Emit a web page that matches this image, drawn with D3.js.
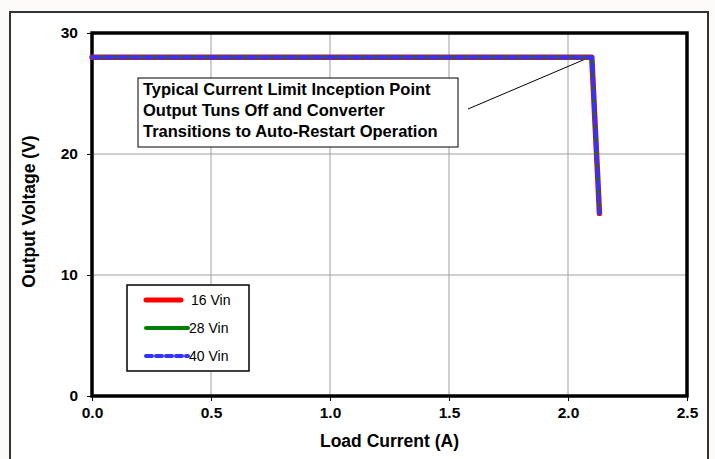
<!DOCTYPE html>
<html>
<head>
<meta charset="utf-8">
<script src="https://cdn.jsdelivr.net/npm/d3@7"></script>
<style>
  body { margin: 0; background: #fdfafa; }
  svg { display: block; font-family: "Liberation Sans", Arial, sans-serif; }
  .tick text { font-size: 15.5px; font-weight: bold; fill: #000; }
</style>
</head>
<body>
<svg width="715" height="459"></svg>
<script>
// load current (A) vs output voltage (V)
const current = [0, 0.5, 1.0, 1.5, 2.0, 2.10, 2.105, 2.11, 2.115, 2.12, 2.125, 2.13, 2.132];
const vout16 = [28, 28, 28, 28, 28, 28, 26, 24, 22, 20, 18, 16, 15.1];
const vout28 = [28, 28, 28, 28, 28, 28, 26, 24, 22, 20, 18, 16, 15.1];
const vout40 = [28, 28, 28, 28, 28, 28, 26, 24, 22, 20, 18, 16, 15.1];
const seriesNames = ['16 Vin', '28 Vin', '40 Vin'];
const xTicks = [0, 0.5, 1.0, 1.5, 2.0, 2.5];
const yTicks = [0, 10, 20, 30];
const noteLines = ['Typical Current Limit Inception Point',
                   'Output Tuns Off and Converter',
                   'Transitions to Auto-Restart Operation'];
const kneePoint = [2.10, 28];

const svg = d3.select('svg');
const width = +svg.attr('width');
const height = +svg.attr('height');

const margin = { top: 33, right: 28, bottom: 63, left: 92 };
const innerWidth = width - margin.left - margin.right;
const innerHeight = height - margin.top - margin.bottom;

// outer frame (runs off the bottom of the picture)
svg.append('rect')
  .attr('x', 10).attr('y', 12)
  .attr('width', 698).attr('height', height - 12)
  .attr('fill', '#fff');
svg.append('path')
  .attr('d', `M10,${height} V12 H708 V${height}`)
  .attr('fill', 'none')
  .attr('stroke', '#333').attr('stroke-width', 2);

const xScale = d3.scaleLinear().domain([0, 2.5]).range([0, innerWidth]);
const yScale = d3.scaleLinear().domain([0, 30]).range([innerHeight, 0]);

const g = svg.append('g')
  .attr('transform', `translate(${margin.left},${margin.top})`);

// grid
g.append('g').selectAll('line').data(xTicks.slice(1, -1)).enter().append('line')
  .attr('x1', d => xScale(d)).attr('x2', d => xScale(d))
  .attr('y1', 0).attr('y2', innerHeight)
  .attr('stroke', '#a0a0a0').attr('stroke-width', 1);
g.append('g').selectAll('line').data(yTicks.slice(1, -1)).enter().append('line')
  .attr('y1', d => yScale(d)).attr('y2', d => yScale(d))
  .attr('x1', 0).attr('x2', innerWidth)
  .attr('stroke', '#a0a0a0').attr('stroke-width', 1);

// axes
const xAxisG = g.append('g')
  .attr('transform', `translate(0,${innerHeight})`)
  .call(d3.axisBottom(xScale).tickValues(xTicks).tickFormat(d3.format('.1f')).tickSize(5).tickPadding(6));
xAxisG.select('.domain').remove();
xAxisG.selectAll('line').attr('stroke', '#000');

const yAxisG = g.append('g')
  .call(d3.axisLeft(yScale).tickValues(yTicks).tickSize(5).tickPadding(9));
yAxisG.select('.domain').remove();
yAxisG.selectAll('line').attr('stroke', '#000');

// plot border
g.append('rect')
  .attr('width', innerWidth).attr('height', innerHeight)
  .attr('fill', 'none').attr('stroke', '#000').attr('stroke-width', 3.5);

// axis labels
g.append('text')
  .attr('x', innerWidth / 2).attr('y', innerHeight + 51)
  .attr('text-anchor', 'middle')
  .attr('font-size', 17.5).attr('font-weight', 'bold')
  .text('Load Current (A)');
g.append('text')
  .attr('transform', `rotate(-90)`)
  .attr('x', -innerHeight / 2 + 3).attr('y', -57)
  .attr('text-anchor', 'middle')
  .attr('font-size', 17.5).attr('font-weight', 'bold')
  .text('Output Voltage (V)');

// annotation
const noteX = 46, noteY = 45;
g.append('line')
  .attr('x1', 376).attr('y1', 76)
  .attr('x2', xScale(kneePoint[0]) - 2).attr('y2', yScale(kneePoint[1]))
  .attr('stroke', '#000').attr('stroke-width', 1);
g.append('rect')
  .attr('x', noteX).attr('y', noteY)
  .attr('width', 320).attr('height', 69)
  .attr('fill', '#fff').attr('stroke', '#000').attr('stroke-width', 1);
g.append('g').selectAll('text').data(noteLines).enter().append('text')
  .attr('x', noteX + 5)
  .attr('y', (d, i) => noteY + 17 + i * 21)
  .attr('font-size', 16.5).attr('font-weight', 'bold')
  .text(d => d);

// series
const rows = current.map((c, i) => ({ x: c, v: [vout16[i], vout28[i], vout40[i]] }));
const styles = [
  { color: '#ff0000', width: 5.5, dash: null },
  { color: '#008000', width: 4, dash: null },
  { color: '#3333ff', width: 4, dash: '8,5' }
];
styles.forEach((s, k) => {
  const line = d3.line().x(d => xScale(d.x)).y(d => yScale(d.v[k]));
  g.append('path')
    .datum(rows)
    .attr('d', line)
    .attr('fill', 'none')
    .attr('stroke', s.color)
    .attr('stroke-width', s.width)
    .attr('stroke-linejoin', 'round')
    .attr('stroke-linecap', 'round')
    .attr('stroke-dasharray', s.dash);
});

// legend
const legend = g.append('g').attr('transform', 'translate(35,252)');
legend.append('rect')
  .attr('width', 122).attr('height', 86)
  .attr('fill', '#fff').attr('stroke', '#000').attr('stroke-width', 1.5);
seriesNames.forEach((name, i) => {
  const y = 15 + i * 28;
  legend.append('line')
    .attr('x1', 19).attr('x2', i === 0 ? 54 : 61)
    .attr('y1', y).attr('y2', y)
    .attr('stroke', styles[i].color)
    .attr('stroke-width', i === 0 ? 5 : 4)
    .attr('stroke-linecap', 'round')
    .attr('stroke-dasharray', i === 2 ? '6,4' : null);
  legend.append('text')
    .attr('x', i === 0 ? 64 : 62).attr('y', y + 5)
    .attr('font-size', 14)
    .text(name);
});
</script>
</body>
</html>
